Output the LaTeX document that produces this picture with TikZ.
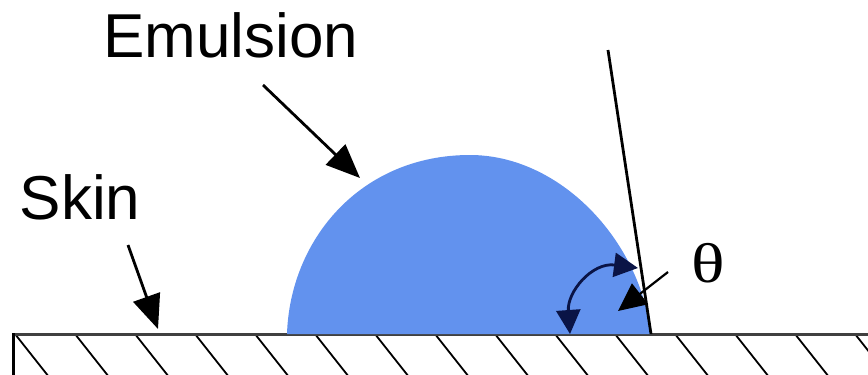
\documentclass[tikz,border=0pt]{standalone}
\usepackage{fontspec}
\setmainfont{Liberation Sans}
\newfontfamily\thetafont{Liberation Serif}
\usetikzlibrary{arrows.meta}
\definecolor{dropblue}{RGB}{98,146,238}
\definecolor{arcnavy}{RGB}{10,20,70}

\begin{document}
\begin{tikzpicture}[x=1pt,y=-1pt,
  bigtext/.style={inner sep=0pt,anchor=base,font=\fontsize{62}{70}\selectfont},
  pointer/.style={line width=2.8pt,-{Triangle[length=34pt,width=28pt]}}]
\useasboundingbox (0,0) rectangle (868,375);

% Skin (hatched)
\begin{scope}
\clip (13,334) rectangle (868,375);
\foreach \x in {15,75,...,855} {
    \draw[line width=1.8pt] (\x,334) -- (\x+34,377);
}
\end{scope}
\draw[line width=3pt,black!75] (12,334) -- (868,334);
\draw[line width=3pt] (13,333) -- (13,375);

% Emulsion drop
\fill[dropblue] (287,334) .. controls (290,240) and (360,155) .. (470,155)
    .. controls (560,155) and (640,240) .. (651,334) -- cycle;

% Tangent line
\coordinate (tantop) at (608,50);
\coordinate (contact) at (651,334);
\draw[line width=2.8pt] (tantop) -- (contact);

% Contact angle
\coordinate (arcstart) at (570,334);
\coordinate (arcend) at (638,268);
\draw[arcnavy,line width=2.8pt,{Triangle[length=24pt,width=24pt]}-{Triangle[length=24pt,width=24pt]}]
    (arcstart) .. controls (567,292) and (592,262) .. (arcend);

% Labels
\node[bigtext] (emulsion) at (231,57) {Emulsion};
\node[bigtext] (skin) at (80,219) {Skin};
\node[inner sep=0pt,anchor=base,xscale=1.25,font=\thetafont\fontsize{56}{60}\selectfont] (theta) at (708,282) {θ};

% Arrows
\coordinate (emtail) at (263,85);
\coordinate (emtip) at (360,178);
\draw[pointer] (emtail) -- (emtip);
\coordinate (skintail) at (128,245);
\coordinate (skintip) at (158,329);
\draw[pointer] (skintail) -- (skintip);
\coordinate (thetatail) at (668,272);
\coordinate (thetatip) at (618,311);
\draw[line width=2.2pt,-{Triangle[length=28pt,width=26pt]}] (thetatail) -- (thetatip);

\end{tikzpicture}
\end{document}
